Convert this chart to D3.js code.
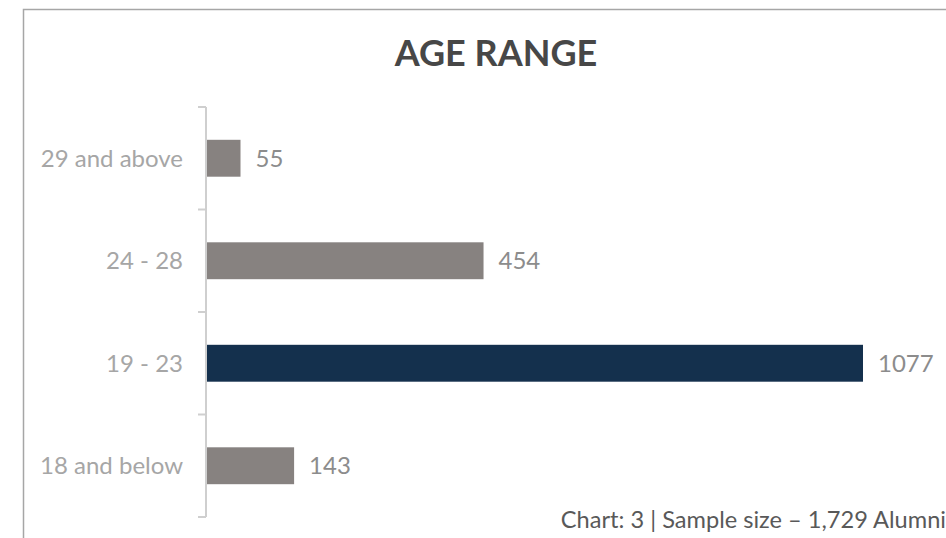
<!DOCTYPE html>
<html lang="en">

<head>
  <title>Age Range</title>
  <script src="https://cdn.jsdelivr.net/npm/d3@7"></script>
  <style>
    body { margin: 0; background: #fff; }
    text { font-family: Lato, "Open Sans", sans-serif; }
  </style>
</head>

<body>
  <script>
    var categories = ["29 and above", "24 - 28", "19 - 23", "18 and below"];
    var values = [55, 454, 1077, 143];
    var highlight = "19 - 23";
    var title = "AGE RANGE";
    var footnote = "Chart: 3 | Sample size \u2013 1,729 Alumni";

    var w = 946;
    var h = 538;
    var margin = { top: 107, left: 207, right: 83, bottom: 21 };

    var svg = d3.select("body").append("svg")
      .attr("width", w)
      .attr("height", h);

    // frame, open to the right and bottom
    svg.append("path")
      .attr("d", "M23.5," + h + "V9.5H" + w)
      .attr("fill", "none")
      .attr("stroke", "#a6a6a6")
      .attr("stroke-width", 1.5);

    svg.append("text")
      .attr("x", 496)
      .attr("y", 66)
      .attr("text-anchor", "middle")
      .attr("font-size", 36)
      .attr("font-weight", "bold")
      .attr("fill", "#474747")
      .text(title);

    var x = d3.scaleLinear()
      .domain([0, d3.max(values)])
      .range([margin.left, 863]);

    var y = d3.scaleBand()
      .domain(categories)
      .range([margin.top, h - margin.bottom])
      .paddingInner(0.64)
      .paddingOuter(0.32);

    // axis line and boundary ticks between categories
    var step = y.step();
    var y0 = y.range()[0];
    var axis = svg.append("g");
    axis.append("line")
      .attr("x1", 206).attr("x2", 206)
      .attr("y1", y0).attr("y2", y0 + step * categories.length)
      .attr("stroke", "#cfcfcf")
      .attr("stroke-width", 2);
    axis.selectAll(".bnd")
      .data(d3.range(categories.length + 1))
      .enter()
      .append("line")
      .attr("x1", 198).attr("x2", 206)
      .attr("y1", function (i) { return y0 + i * step; })
      .attr("y2", function (i) { return y0 + i * step; })
      .attr("stroke", "#cfcfcf")
      .attr("stroke-width", 2);

    var yAxis = svg.append("g")
      .attr("transform", "translate(206,0)")
      .call(d3.axisLeft(y).tickSize(0).tickPadding(23));
    yAxis.select(".domain").remove();
    yAxis.selectAll("text")
      .attr("font-size", 24)
      .attr("dy", "0.36em")
      .attr("fill", "#a6a6a6")
      .style("font-family", "Lato, sans-serif");

    svg.selectAll(".bar")
      .data(values)
      .enter()
      .append("rect")
      .attr("x", x(0))
      .attr("y", function (d, i) { return y(categories[i]); })
      .attr("width", function (d) { return x(d) - x(0); })
      .attr("height", y.bandwidth())
      .attr("fill", function (d, i) { return categories[i] === highlight ? "#14304d" : "#878280"; });

    svg.selectAll(".bar-label")
      .data(values)
      .enter()
      .append("text")
      .attr("x", function (d) { return x(d) + 15; })
      .attr("y", function (d, i) { return y(categories[i]) + y.bandwidth() / 2; })
      .attr("dy", "0.36em")
      .attr("font-size", 24)
      .attr("fill", "#8c8c8c")
      .text(function (d) { return d; });

    svg.append("text")
      .attr("x", 946)
      .attr("y", 528)
      .attr("text-anchor", "end")
      .attr("font-size", 23.6)
      .attr("fill", "#595959")
      .text(footnote);
  </script>
</body>

</html>
